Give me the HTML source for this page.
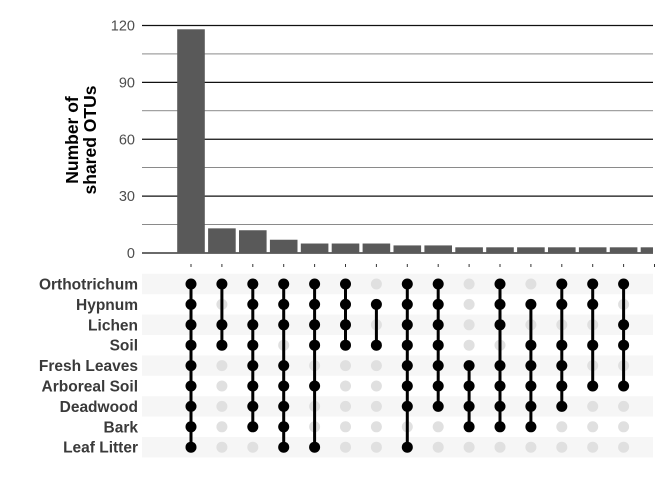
<!DOCTYPE html>
<html><head><meta charset="utf-8"><style>
html,body{margin:0;padding:0;background:#fff;}
svg{display:block;font-family:"Liberation Sans",sans-serif;}
</style></head><body>
<svg id="chart" width="672" height="480"></svg>
<script>
const sets=["Orthotrichum","Hypnum","Lichen","Soil","Fresh Leaves","Arboreal Soil","Deadwood","Bark","Leaf Litter"];
const counts=[118,13,12,7,5,5,5,4,4,3,3,3,3,3,3,3];
const members=[[0,1,2,3,4,5,6,7,8],[0,2,3],[0,1,2,3,4,5,6,7],[0,1,2,4,5,6,7,8],[0,1,2,3,5,8],[0,1,2,3],[1,3],[0,1,2,3,4,5,6,8],[0,1,2,3,4,5,6],[4,5,6,7],[0,1,2,4,5,6,7],[1,3,4,5,6,7],[0,1,3,4,5,6],[0,1,3,5],[0,2,3,5],[]];
const yTicks=[0,30,60,90,120];
const NS="http://www.w3.org/2000/svg";
const svg=document.getElementById('chart');
function mk(t,a,p){const e=document.createElementNS(NS,t);for(const k in a)e.setAttribute(k,a[k]);(p||svg).appendChild(e);return e;}
const L=142,R=653,y0=253,y120=25.5;
const ys=v=>y0-(y0-y120)*v/120;
const xs=i=>191+i*30.9;
const rowY=j=>284+j*20.4;
for(let v=0;v<=120;v+=15){const g=mk('line',{x1:L,x2:R,y1:ys(v),y2:ys(v),stroke:v%30===0?'#111':'#444','stroke-width':v%30===0?1.2:0.7});
}
yTicks.forEach(v=>{const t=mk('text',{x:135,y:ys(v)+5,'text-anchor':'end','font-size':14.5,fill:'#4d4d4d'});t.textContent=v;
});
const tt=mk('text',{transform:'translate(81,140) rotate(-90)','text-anchor':'middle','font-size':17.5,'font-weight':'bold',fill:'#000'});

mk('tspan',{x:0,dy:-3},tt).textContent='Number of';mk('tspan',{x:0,dy:18},tt).textContent='shared OTUs';
const cp=mk('clipPath',{id:'pc'});mk('rect',{x:L,y:0,width:R-L,height:480},cp);
counts.forEach((c,i)=>{const b=mk('rect',{x:xs(i)-13.8,y:ys(c),width:27.6,height:y0-ys(c),fill:'#595959','clip-path':'url(#pc)'});

const tk=mk('line',{x1:xs(i),x2:xs(i),y1:264,y2:267,stroke:'#333','stroke-width':1});
});
sets.forEach((s,j)=>{if(j%2===0){const r=mk('rect',{x:L,y:rowY(j)-10.2,width:R-L,height:20.4,fill:'#f6f6f6'});
}
const t=mk('text',{x:138,y:rowY(j)+5.5,'text-anchor':'end','font-size':15.5,'font-weight':'bold',fill:'#3a3a3a'});t.textContent=s;
});
members.forEach((m,i)=>{if(i>=15)return;
sets.forEach((s,j)=>{const d=mk('circle',{cx:xs(i),cy:rowY(j),r:5.5,fill:'#e0e0e0'});
});
if(m.length){const a=Math.min(...m),b=Math.max(...m);
const l=mk('line',{x1:xs(i),x2:xs(i),y1:rowY(a),y2:rowY(b),stroke:'#000','stroke-width':3});

m.forEach(j=>{const d=mk('circle',{cx:xs(i),cy:rowY(j),r:5.5,fill:'#000'});
});}});
</script>
</body></html>
